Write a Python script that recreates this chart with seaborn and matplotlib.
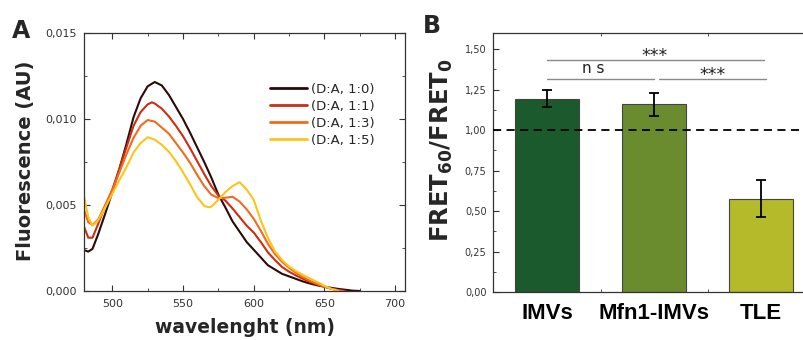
import numpy as np
import pandas as pd
import seaborn as sns
import matplotlib.pyplot as plt
from matplotlib.ticker import MultipleLocator, FuncFormatter

# ----- Panel A: emission spectra (fluorescence in units of 1e-3 AU) ----- #
wl_10 = [480, 483, 486, 490, 495, 500, 505, 510, 515, 520, 525, 530, 535, 540, 545,
         550, 555, 560, 565, 570, 575, 580, 585, 590, 595, 600, 605, 610, 615, 620,
         625, 630, 635, 640, 645, 650, 655, 660, 665, 670, 675]
fl_10 = [2.38, 2.29, 2.45, 3.3, 4.5, 5.75, 7.1, 8.55, 10.1, 11.2, 11.9, 12.15, 11.95, 11.4, 10.7,
         10.0, 9.2, 8.35, 7.5, 6.6, 5.6, 4.85, 4.05, 3.45, 2.85, 2.4, 1.95, 1.5, 1.25, 1.0,
         0.85, 0.7, 0.55, 0.43, 0.33, 0.25, 0.18, 0.12, 0.07, 0.02, 0.0]

wl_11 = [480, 483, 486, 490, 495, 500, 505, 510, 515, 520, 525, 528, 530, 535, 540, 545,
         550, 555, 560, 565, 570, 575, 580, 585, 590, 595, 600, 605, 610, 615, 620,
         625, 630, 635, 640, 645, 650, 655, 660, 665]
fl_11 = [3.74, 3.1, 3.1, 3.9, 4.95, 5.9, 7.1, 8.35, 9.6, 10.4, 10.85, 10.97, 10.9, 10.6, 10.15, 9.6,
         9.0, 8.3, 7.55, 6.8, 6.1, 5.55, 5.25, 4.8, 4.3, 3.8, 3.4, 2.85, 2.25, 1.8, 1.4,
         1.12, 0.9, 0.7, 0.52, 0.38, 0.25, 0.14, 0.05, 0.0]

wl_13 = [480, 483, 486, 490, 495, 500, 505, 510, 515, 520, 525, 530, 535, 540, 545,
         550, 555, 560, 565, 570, 575, 580, 585, 590, 595, 600, 605, 610, 615, 620,
         625, 630, 635, 640, 645, 650, 655, 660, 663]
fl_13 = [4.71, 4.0, 3.84, 4.15, 5.0, 5.85, 6.9, 7.95, 8.9, 9.6, 9.94, 9.85, 9.5, 9.15, 8.6,
         8.05, 7.45, 6.75, 6.1, 5.6, 5.4, 5.42, 5.48, 5.2, 4.75, 4.2, 3.5, 2.75, 2.15, 1.7,
         1.35, 1.05, 0.8, 0.58, 0.4, 0.25, 0.12, 0.03, 0.0]

wl_15 = [480, 483, 486, 490, 495, 500, 505, 510, 515, 520, 525, 530, 535, 540, 545,
         550, 555, 560, 565, 568, 570, 575, 580, 585, 590, 595, 600, 605, 610, 615, 620,
         625, 630, 635, 640, 645, 650, 655, 660]
fl_15 = [5.48, 4.3, 3.8, 4.1, 4.85, 5.65, 6.45, 7.2, 8.05, 8.6, 8.94, 8.8, 8.5, 8.1, 7.55,
         6.9, 6.2, 5.45, 4.95, 4.87, 4.9, 5.3, 5.75, 6.1, 6.33, 5.9, 5.3, 4.1, 3.1, 2.3, 1.8,
         1.42, 1.15, 0.92, 0.72, 0.52, 0.3, 0.12, 0.0]

mix_labels = ['(D:A, 1:0)', '(D:A, 1:1)', '(D:A, 1:3)', '(D:A, 1:5)']
line_colors = ['#2b0a0a', '#cc2e14', '#f26b1d', '#fcc419']

# ----- Panel B: FRET ratio ----- #
samples = ['IMVs', 'Mfn1-IMVs', 'TLE']
ratio = [1.195, 1.16, 0.577]
ratio_err = [0.053, 0.07, 0.113]
bar_colors = ['#1b5a2c', '#6b8c2e', '#b5ba2a']


def comma(fmt):
    return FuncFormatter(lambda v, p: format(v, fmt).replace('.', ','))


sns.set_style('ticks')
plt.rcParams['font.family'] = ['DejaVu Sans']
plt.rcParams['mathtext.default'] = 'regular'

fig = plt.figure(figsize=(8.04, 3.4), dpi=100)
axA = fig.add_axes([0.1045, 0.1441, 0.3993, 0.7589])
axB = fig.add_axes([0.6138, 0.1412, 0.3993, 0.7618])

# ----- spectra ----- #
parts = []
for wl, fl, lab in zip([wl_10, wl_11, wl_13, wl_15], [fl_10, fl_11, fl_13, fl_15], mix_labels):
    parts.append(pd.DataFrame({'wl': wl, 'fl': np.array(fl) * 1e-3, 'mix': lab}))
spec = pd.concat(parts, ignore_index=True)

sns.lineplot(data=spec, x='wl', y='fl', hue='mix', hue_order=mix_labels,
             palette=line_colors, linewidth=1.5, sort=False, ax=axA)
axA.set_xlim(480, 707)
axA.set_ylim(0, 0.015)
axA.xaxis.set_major_locator(MultipleLocator(50))
axA.xaxis.set_minor_locator(MultipleLocator(25))
axA.yaxis.set_major_locator(MultipleLocator(0.005))
axA.yaxis.set_minor_locator(MultipleLocator(0.0025))
axA.yaxis.set_major_formatter(comma('.3f'))
axA.tick_params(which='both', direction='in', top=True, right=True,
                color='#333333', labelcolor='#333333', labelsize=8)
axA.tick_params(which='major', length=4)
axA.tick_params(which='minor', length=2.5)
axA.tick_params(axis='x', pad=6)
axA.tick_params(axis='y', pad=5)
for s in axA.spines.values():
    s.set_color('#333333')
    s.set_linewidth(0.9)
axA.set_xlabel('wavelenght (nm)', fontsize=13.5, fontweight='bold')
axA.set_ylabel('Fluorescence (AU)', fontsize=14, fontweight='bold')
axA.xaxis.set_label_coords(0.5, -0.105)
axA.yaxis.set_label_coords(-0.153, 0.505)
axA.legend(loc='center left', bbox_to_anchor=(0.579, 0.682), frameon=False,
           fontsize=9.5, handlelength=2.8, handletextpad=0.3, labelspacing=0.3,
           borderaxespad=0, borderpad=0)
for ln in axA.get_legend().get_lines():
    ln.set_linewidth(2)

# ----- bars ----- #
sns.barplot(x=samples, y=ratio, hue=samples, palette=bar_colors, width=0.6,
            saturation=1, edgecolor='#444444', linewidth=0.8, legend=False, ax=axB)
axB.errorbar(range(len(samples)), ratio, yerr=ratio_err, fmt='none', ecolor='black',
             elinewidth=1.3, capsize=3.5, capthick=1.3, zorder=5)
axB.axhline(1.0, color='black', linewidth=1.3, linestyle=(0, (4.5, 3)), zorder=4)
axB.set_xlim(-0.5, 2.5)
axB.set_ylim(0, 1.6)
axB.yaxis.set_major_locator(MultipleLocator(0.25))
axB.yaxis.set_minor_locator(MultipleLocator(0.125))
axB.xaxis.set_minor_locator(MultipleLocator(0.5))
axB.yaxis.set_major_formatter(comma('.2f'))
axB.tick_params(which='both', direction='in', top=True, right=False,
                color='#333333', labelcolor='#333333')
axB.tick_params(axis='y', labelsize=7, pad=5)
axB.tick_params(which='major', length=4)
axB.tick_params(which='minor', length=2.5)
axB.tick_params(axis='x', which='major', length=0, pad=8)
for lab in axB.get_xticklabels():
    lab.set_fontfamily('Liberation Sans')
    lab.set_fontweight('bold')
    lab.set_fontsize(16)
    lab.set_color('black')
for s in axB.spines.values():
    s.set_color('#333333')
    s.set_linewidth(0.9)
axB.spines['right'].set_visible(False)
axB.set_ylabel('FRET$_{60}$/FRET$_{0}$', fontsize=17.5, fontweight='bold')
axB.yaxis.set_label_coords(-0.12, 0.548)

# ----- significance brackets ----- #
gray = '#8a8a8a'
axB.plot([0, 2.03], [1.434, 1.434], color=gray, linewidth=1)
axB.plot([0, 1.0], [1.315, 1.315], color=gray, linewidth=1)
axB.plot([1.05, 2.05], [1.315, 1.315], color=gray, linewidth=1)
axB.text(1.01, 1.425, '***', ha='center', va='baseline', fontsize=12.5, color='#222222')
axB.text(1.547, 1.31, '***', ha='center', va='baseline', fontsize=12.5, color='#222222')
axB.text(0.43, 1.352, 'n s', ha='center', va='baseline', fontsize=11, color='#222222')

fig.text(12 / 804, 0.888, 'A', fontsize=17, fontweight='bold', va='baseline')
fig.text(423 / 804, 0.903, 'B', fontsize=17, fontweight='bold', va='baseline')

fig.savefig('out.png', dpi=100)
